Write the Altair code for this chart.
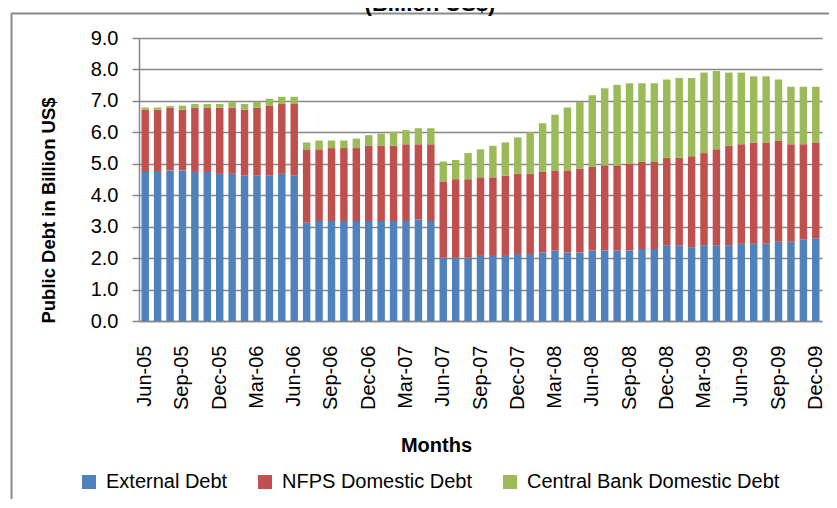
import altair as alt
import pandas as pd

months = ["Jun-05","Jul-05","Aug-05","Sep-05","Oct-05","Nov-05","Dec-05","Jan-06","Feb-06","Mar-06","Apr-06","May-06","Jun-06",
          "Jul-06","Aug-06","Sep-06","Oct-06","Nov-06","Dec-06","Jan-07","Feb-07","Mar-07","Apr-07","May-07","Jun-07",
          "Jul-07","Aug-07","Sep-07","Oct-07","Nov-07","Dec-07","Jan-08","Feb-08","Mar-08","Apr-08","May-08","Jun-08",
          "Jul-08","Aug-08","Sep-08","Oct-08","Nov-08","Dec-08","Jan-09","Feb-09","Mar-09","Apr-09","May-09","Jun-09",
          "Jul-09","Aug-09","Sep-09","Oct-09","Nov-09","Dec-09"]

# cumulative tops
external_top = [4.74,4.74,4.79,4.79,4.74,4.74,4.68,4.68,4.62,4.62,4.62,4.68,4.62,
                3.13,3.18,3.18,3.18,3.18,3.18,3.18,3.18,3.18,3.23,3.18,2.01,
                2.01,2.01,2.07,2.07,2.07,2.13,2.13,2.18,2.24,2.18,2.18,2.24,
                2.24,2.24,2.24,2.29,2.29,2.41,2.41,2.35,2.41,2.41,2.41,2.46,
                2.46,2.46,2.52,2.52,2.58,2.63]
nfps_top = [6.72,6.72,6.78,6.72,6.78,6.78,6.78,6.78,6.72,6.78,6.84,6.90,6.90,
            5.46,5.46,5.50,5.50,5.50,5.57,5.57,5.57,5.62,5.62,5.62,4.44,
            4.51,4.51,4.57,4.57,4.62,4.68,4.68,4.74,4.79,4.79,4.85,4.90,
            4.95,4.95,5.01,5.06,5.06,5.19,5.19,5.24,5.34,5.46,5.57,5.62,
            5.68,5.68,5.73,5.62,5.62,5.68]
cb_top = [6.79,6.79,6.84,6.85,6.90,6.90,6.90,6.98,6.90,6.98,7.07,7.13,7.13,
          5.68,5.74,5.74,5.74,5.80,5.91,5.96,6.02,6.07,6.13,6.13,5.07,
          5.12,5.34,5.46,5.57,5.68,5.84,6.01,6.29,6.56,6.79,6.96,7.18,
          7.40,7.51,7.56,7.56,7.56,7.68,7.73,7.73,7.90,7.95,7.90,7.90,
          7.78,7.78,7.68,7.45,7.45,7.45]

series = ["External Debt", "NFPS Domestic Debt", "Central Bank Domestic Debt"]
colors = ["#4F81BD", "#C0504D", "#9BBB59"]
tick_months = months[::3]

rows = []
for i, m in enumerate(months):
    vals = [external_top[i], nfps_top[i] - external_top[i], cb_top[i] - nfps_top[i]]
    for k, s in enumerate(series):
        rows.append({"Month": m, "Series": s, "Value": round(vals[k], 3), "ord": k})
df = pd.DataFrame(rows)

FONT = "Liberation Sans"

bars = alt.Chart(df).mark_bar(opacity=1).encode(
    x=alt.X("Month:N", sort=months,
            scale=alt.Scale(paddingInner=0.4, paddingOuter=0.2),
            axis=alt.Axis(values=tick_months, labelAngle=270, title="Months",
                          ticks=False, labelPadding=24, labelFontSize=20,
                          labelFont=FONT, labelColor="#000000",
                          titleFont=FONT, titleFontSize=20, titleFontWeight="bold",
                          titleColor="#000000", titleX=297, titleY=130, titleBaseline="alphabetic",
                          domainColor="#868686", domainWidth=1.5, labelOverlap=False)),
    y=alt.Y("Value:Q", stack="zero",
            scale=alt.Scale(domain=[0, 9], nice=False),
            axis=alt.Axis(values=[0,1,2,3,4,5,6,7,8,9], format=".1f",
                          title="Public Debt in Billion US$",
                          labelFontSize=20, labelFont=FONT, labelColor="#000000",
                          tickSize=7, tickColor="#868686", tickWidth=1.5, labelPadding=14,
                          gridColor="#868686", gridWidth=1.5,
                          domainColor="#868686", domainWidth=1.5,
                          titleFont=FONT, titleFontSize=18.5, titleFontWeight="bold",
                          titleColor="#000000", titleX=-81, titleY=172, titleAngle=270,
                          titleBaseline="bottom")),
    color=alt.Color("Series:N", sort=series,
                    scale=alt.Scale(domain=series, range=colors),
                    legend=alt.Legend(orient="none", legendX=-60, legendY=434,
                                      direction="horizontal", title=None,
                                      symbolType="square", symbolSize=196,
                                      symbolStrokeWidth=0, symbolOpacity=1,
                                      labelFontSize=20, labelFont=FONT, labelColor="#000000",
                                      labelLimit=0, labelOffset=7, columnPadding=27)),
    order=alt.Order("ord:Q"),
)

frame_data = alt.Data(values=[{"t": "(Billion US$)"}])
top_line = alt.Chart(frame_data).mark_rule(color="#8a8a8a", strokeWidth=2).encode(
    x=alt.value(-128), x2=alt.value(700), y=alt.value(-24.5))
left_line = alt.Chart(frame_data).mark_rule(color="#8a8a8a", strokeWidth=2).encode(
    x=alt.value(-127.5), y=alt.value(-24.5), y2=alt.value(480))
title = alt.Chart(frame_data).mark_text(font=FONT, fontSize=22, fontWeight="bold",
                                        color="#000000", align="center",
                                        baseline="alphabetic").encode(
    x=alt.value(291), y=alt.value(-27), text="t:N")

chart = alt.layer(bars, top_line, left_line, title).properties(
    width=683, height=283,
    autosize=alt.AutoSizeParams(type="none"),
    padding={"left": 131, "top": 30, "right": 7, "bottom": 178},
).configure_view(stroke=None).configure_axis(grid=True).configure_axisX(grid=False)

chart.save("out.html", embed_options={"renderer": "svg", "actions": False})
